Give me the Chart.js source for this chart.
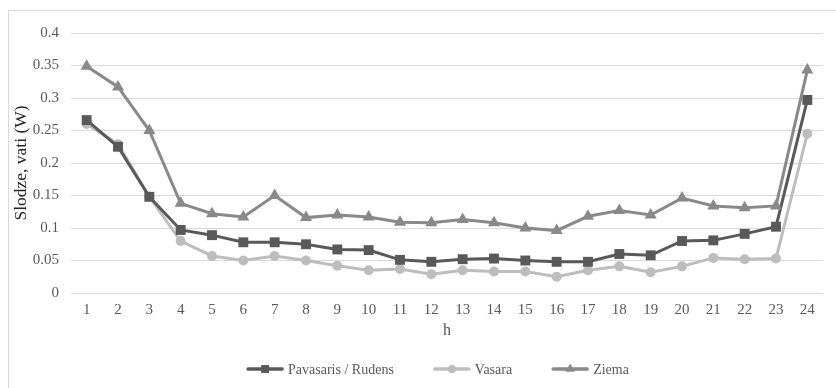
<!DOCTYPE html>
<html>
<head>
<meta charset="utf-8">
<script src="https://cdn.jsdelivr.net/npm/chart.js@4/dist/chart.umd.min.js"></script>
<style>
  html, body { margin: 0; padding: 0; background: #ffffff; }
  #wrap { width: 836px; height: 388px; }
</style>
</head>
<body>
<div id="wrap"><canvas id="chart" width="836" height="388"></canvas></div>
<script>
// Hours of the day
const hours = ['1','2','3','4','5','6','7','8','9','10','11','12','13','14','15','16','17','18','19','20','21','22','23','24'];

// Average load per hour, watts
const springAutumn = [0.266,0.225,0.148,0.097,0.089,0.078,0.078,0.075,0.067,0.066,0.051,0.048,
                      0.052,0.053,0.050,0.048,0.048,0.060,0.058,0.080,0.081,0.091,0.102,0.297];
const summer       = [0.260,0.229,0.148,0.080,0.057,0.050,0.057,0.050,0.042,0.035,0.037,0.029,
                      0.035,0.033,0.033,0.025,0.035,0.041,0.032,0.041,0.054,0.052,0.053,0.245];
const winter       = [0.349,0.317,0.250,0.138,0.122,0.117,0.150,0.116,0.120,0.117,0.109,0.108,
                      0.113,0.108,0.100,0.096,0.118,0.127,0.120,0.146,0.134,0.131,0.134,0.343];

const seriesNames = ['Pavasaris / Rudens', 'Vasara', 'Ziema'];
const yTicks = [0, 0.05, 0.1, 0.15, 0.2, 0.25, 0.3, 0.35, 0.4];

const FONT = '"Liberation Serif", "Times New Roman", serif';
const colors = ['#595959', '#bdbdbd', '#898989'];
const styles = ['rect', 'circle', 'triangle'];
const radii = [7, 5, 7];

// Light frame around the chart area, like a chart object border
const framePlugin = {
  id: 'frame',
  beforeDraw(chart) {
    const ctx = chart.ctx;
    ctx.save();
    ctx.fillStyle = '#ffffff';
    ctx.fillRect(0, 0, chart.width, chart.height);
    ctx.strokeStyle = '#d9d9d9';
    ctx.lineWidth = 1;
    ctx.strokeRect(8.5, 10.5, chart.width + 10, chart.height + 10);
    ctx.restore();
  }
};

// Legend with a line segment and marker for each series
const lineLegendPlugin = {
  id: 'lineLegend',
  afterDraw(chart) {
    const ctx = chart.ctx;
    const sample = 36, gapText = 5, gapItem = 40;
    ctx.save();
    ctx.font = '14px ' + FONT;
    ctx.textBaseline = 'middle';
    const items = chart.data.datasets.map(ds => ({
      ds, w: sample + gapText + ctx.measureText(ds.label).width
    }));
    const total = items.reduce((s, it) => s + it.w, 0) + gapItem * (items.length - 1);
    let x = chart.width / 2 + 20 - total / 2;
    const y = 369;
    items.forEach(it => {
      const ds = it.ds;
      ctx.strokeStyle = ds.borderColor;
      ctx.lineWidth = 3.5;
      ctx.lineCap = 'round';
      ctx.beginPath();
      ctx.moveTo(x + 1, y);
      ctx.lineTo(x + sample - 1, y);
      ctx.stroke();
      ctx.fillStyle = ds.pointBackgroundColor;
      Chart.helpers.drawPoint(ctx, {
        pointStyle: ds.pointStyle, radius: ds.pointRadius * 0.8, rotation: 0, borderWidth: 0
      }, x + sample / 2, y);
      ctx.fillStyle = '#595959';
      ctx.textAlign = 'left';
      ctx.fillText(ds.label, x + sample + gapText, y + 1);
      x += it.w + gapItem;
    });
    ctx.restore();
  }
};

const seriesData = [springAutumn, summer, winter];
const datasets = seriesData.map((vals, i) => ({
  label: seriesNames[i],
  data: vals,
  borderColor: colors[i],
  backgroundColor: colors[i],
  pointBackgroundColor: colors[i],
  pointBorderColor: colors[i],
  pointBorderWidth: 0,
  pointStyle: styles[i],
  pointRadius: radii[i],
  pointHoverRadius: radii[i],
  borderWidth: 3,
  tension: 0,
  fill: false
}));
// Draw order: lighter series underneath
datasets[0].order = 1;
datasets[1].order = 2;
datasets[2].order = 0;

new Chart(document.getElementById('chart'), {
  type: 'line',
  data: { labels: hours, datasets },
  options: {
    responsive: false,
    animation: false,
    events: [],
    layout: { padding: { left: 0, right: 13, top: 33, bottom: 40 } },
    plugins: {
      legend: { display: false },
      tooltip: { enabled: false }
    },
    scales: {
      x: {
        offset: true,
        grid: { display: false, drawTicks: false },
        border: { display: false },
        ticks: { color: '#595959', font: { family: FONT, size: 15 }, padding: 8, maxRotation: 0, autoSkip: false },
        title: { display: true, text: 'h', color: '#595959', font: { family: FONT, size: 16 }, padding: { top: 0, bottom: 8 } },
        afterFit(scale) { scale.height = 55; }
      },
      y: {
        min: 0,
        max: 0.4,
        afterBuildTicks(scale) { scale.ticks = yTicks.map(v => ({ value: v })); },
        grid: { color: '#d9d9d9', lineWidth: 1, drawTicks: false },
        border: { display: false },
        ticks: {
          color: '#595959',
          font: { family: FONT, size: 15 },
          padding: 12,
          callback: v => String(v)
        },
        title: { display: true, text: 'Slodze, vati (W)', color: '#262626', font: { family: FONT, size: 17.5 }, padding: { top: 11, bottom: 0 } },
        afterFit(scale) { scale.width = 71; }
      }
    }
  },
  plugins: [framePlugin, lineLegendPlugin]
});
</script>
</body>
</html>
